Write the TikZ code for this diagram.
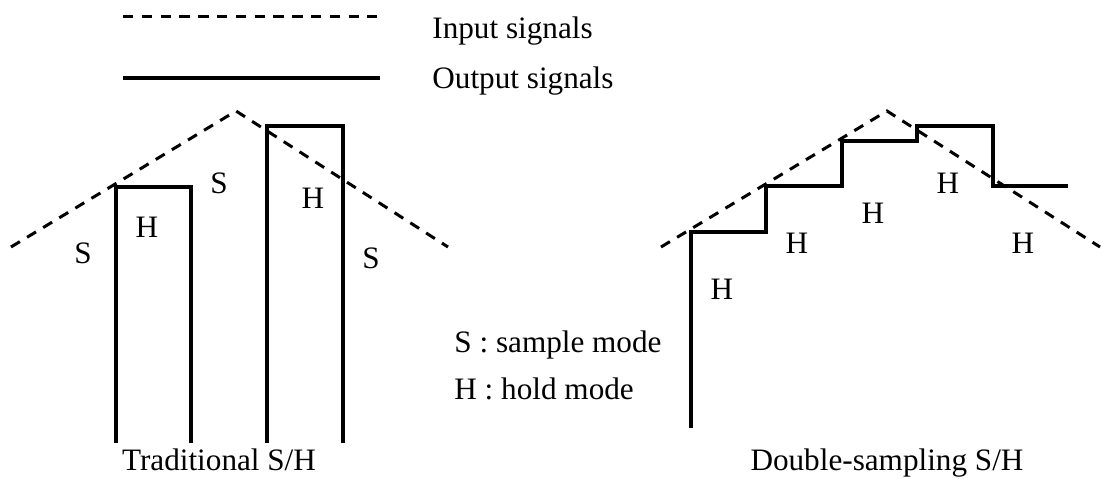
\documentclass[tikz,border=0pt]{standalone}
\usepackage{fontspec}
\setmainfont{Liberation Serif}
\usetikzlibrary{positioning}

\tikzset{
  insig/.style={line width=1.5pt, dash pattern=on 5.2pt off 4.2pt},
  outsig/.style={line width=1.6pt},
  lab/.style={font=\fontsize{15.6}{18}\selectfont, inner sep=0pt},
}

\begin{document}
\begin{tikzpicture}[x=0.5pt, y=0.5pt]
  \useasboundingbox (0,0) rectangle (1103,478);

  % Legend
  \draw[insig]  (123,461) coordinate (inA) -- (377,461) coordinate (inB);
  \draw[outsig] (123,400) coordinate (outA) -- (380,400) coordinate (outB);
  \node[lab, anchor=base west] (inlab)  at (432,439) {Input signals};
  \node[lab, anchor=base west] (outlab) at (432,390) {Output signals};

  % Traditional S/H: input ramp
  \draw[insig] (11,231) -- (236,367) -- (448,231);
  % Traditional S/H: output pulses
  \draw[outsig] (116,35) -- (116,291) -- (191,291) -- (191,35);
  \draw[outsig] (267,35) -- (267,352) -- (343,352) -- (343,35);

  % Mode labels (traditional)
  \foreach \x/\y/\m [count=\i] in {83/225/S, 147/251/H, 219/295/S, 313/280/H, 371/220/S}{
    \node[lab] (tmode\i) at (\x,\y) {\m};
  }

  % Double-sampling S/H: input ramp
  \draw[insig] (661,231) -- (887,367) -- (1100,231);
  % Double-sampling S/H: output staircase
  \draw[outsig] (691,50) -- (691,246) -- (766,246) -- (766,292) -- (842,292)
    -- (842,337) -- (917,337) -- (917,352) -- (993,352) -- (993,292) -- (1068,292);

  % Mode labels (double-sampling)
  \foreach \x/\y [count=\i] in {722/189, 797/235, 873/265, 948/295, 1023/235}{
    \node[lab] (dmode\i) at (\x,\y) {H};
  }

  % Key
  \node[lab, anchor=base west] (skey) at (454,126) {S : sample mode};
  \node[lab, anchor=base west] (hkey) at (454,79) {H : hold mode};

  % Captions
  \node[lab, anchor=base] (tcap) at (219,8) {Traditional S/H};
  \node[lab, anchor=base] (dcap) at (887,8) {Double-sampling S/H};
\end{tikzpicture}
\end{document}
